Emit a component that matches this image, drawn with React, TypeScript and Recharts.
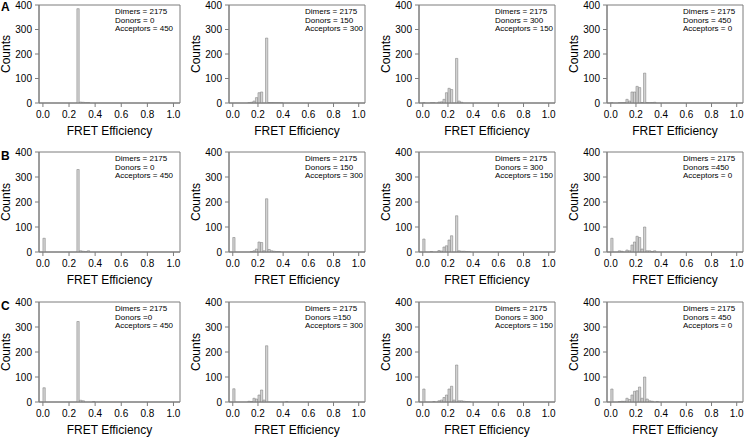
import { BarChart, Bar, XAxis, YAxis, ReferenceArea } from 'recharts'

// bin centres of the FRET histograms (0.02 wide), everything above 0.43 is empty
const BINS = [0.01, 0.03, 0.05, 0.07, 0.09, 0.11, 0.13, 0.15, 0.17, 0.19, 0.21, 0.23, 0.25, 0.27, 0.29, 0.31, 0.33, 0.35, 0.37, 0.39, 0.41, 0.43]

const A1 = [0, 0, 0, 0, 0, 0, 0, 0, 0, 0, 0, 0, 0, 385, 4, 3, 1, 2, 0, 0, 0, 0]
const A2 = [0, 0, 0, 0, 0, 0, 1, 3, 8, 22, 42, 45, 0, 265, 2, 2, 1, 1, 1, 1, 0, 0]
const A3 = [1, 0, 0, 1, 1, 0, 4, 5, 15, 42, 60, 55, 0, 182, 8, 3, 0, 0, 0, 0, 0, 0]
const A4 = [1, 0, 0, 1, 1, 2, 15, 8, 45, 45, 68, 63, 2, 122, 2, 1, 2, 3, 0, 0, 0, 0]
const B1 = [55, 0, 0, 0, 0, 0, 0, 0, 0, 0, 0, 0, 0, 330, 5, 3, 1, 5, 0, 0, 0, 0]
const B2 = [58, 0, 0, 0, 0, 0, 0, 2, 5, 12, 40, 38, 5, 213, 10, 5, 3, 2, 2, 0, 0, 0]
const B3 = [52, 0, 0, 2, 0, 0, 6, 4, 20, 25, 48, 65, 0, 145, 5, 3, 3, 2, 1, 0, 0, 0]
const B4 = [55, 0, 0, 5, 3, 0, 8, 5, 28, 40, 63, 58, 12, 100, 5, 5, 2, 5, 0, 0, 0, 0]
const C1 = [57, 0, 0, 0, 0, 0, 0, 0, 0, 0, 0, 0, 0, 322, 7, 5, 0, 0, 0, 2, 0, 0]
const C2 = [53, 0, 0, 0, 0, 0, 3, 2, 15, 12, 28, 48, 8, 225, 0, 0, 0, 0, 0, 0, 0, 2]
const C3 = [52, 0, 0, 0, 2, 0, 5, 8, 18, 28, 52, 63, 8, 148, 5, 5, 3, 2, 1, 0, 0, 0]
const C4 = [52, 0, 0, 2, 3, 3, 15, 10, 28, 43, 45, 60, 15, 100, 12, 5, 3, 0, 2, 0, 0, 0]

const ROWS = [[A1, A2, A3, A4], [B1, B2, B3, B4], [C1, C2, C3, C4]]
const ROW_LETTERS = ['A', 'B', 'C']

const DONOR_LABELS = [
  ['Donors = 0', 'Donors = 150', 'Donors = 300', 'Donors = 450'],
  ['Donors = 0', 'Donors = 150', 'Donors = 300', 'Donors =450'],
  ['Donors =0', 'Donors =150', 'Donors = 300', 'Donors = 450'],
]
const ACCEPTOR_LABELS = ['Acceptors = 450', 'Acceptors = 300', 'Acceptors = 150', 'Acceptors = 0']
const DIMER_LABEL = 'Dimers = 2175'

const X_TICKS = [0, 0.2, 0.4, 0.6, 0.8, 1.0]
const Y_TICKS = [0, 100, 200, 300, 400]
const X_DOMAIN: [number, number] = [-0.03, 1.05]

// plot-area placement in page pixels
const ROW_TOPS = [5, 152, 302]
const ROW_H = [98, 100, 100]
const COL_LEFTS = [39, 229, 419, 607]
const COL_W = [141, 136, 136, 136]

const AXIS = '#7d7d7d'
const YW = 40
const MT = 6
const MR = 6
const XH = 40

function Panel({ counts, left, top, w, h, lines }: { counts: number[]; left: number; top: number; w: number; h: number; lines: string[] }) {
  const data = BINS.map((x, i) => ({ x, count: counts[i] }))
  return (
    <div style={{ position: 'absolute', left: left - YW, top: top - MT }}>
      <BarChart width={YW + w + MR} height={MT + h + XH} data={data} margin={{ top: MT, right: MR, left: 0, bottom: 0 }} barSize={3}>
        <XAxis
          type="number"
          dataKey="x"
          domain={X_DOMAIN}
          ticks={X_TICKS}
          allowDataOverflow
          tickFormatter={(v: number) => v.toFixed(1)}
          height={XH}
          tickSize={4}
          tickMargin={4}
          stroke={AXIS}
          tick={{ fill: '#000', fontSize: 10 }}
          label={{ value: 'FRET Efficiency', position: 'insideBottom', offset: 8, fill: '#000', fontSize: 12 }}
        />
        <YAxis
          domain={[0, 400]}
          ticks={Y_TICKS}
          allowDataOverflow
          width={YW}
          tickSize={4}
          tickMargin={3}
          stroke={AXIS}
          tick={{ fill: '#000', fontSize: 10 }}
          label={{ value: 'Counts', angle: -90, position: 'insideLeft', offset: 7, fill: '#000', fontSize: 12, style: { textAnchor: 'middle' } }}
        />
        <ReferenceArea x1={X_DOMAIN[0]} x2={X_DOMAIN[1]} y1={0} y2={400} fill="none" stroke={AXIS} ifOverflow="extendDomain" />
        <Bar dataKey="count" fill="#d3d3d3" stroke="#777" strokeWidth={0.5} isAnimationActive={false} />
      </BarChart>
      <div style={{ position: 'absolute', left: YW + 76, top: MT + 3, fontSize: 8, lineHeight: '8.6px', color: '#000', whiteSpace: 'nowrap' }}>
        {lines.map((t) => (
          <div key={t}>{t}</div>
        ))}
      </div>
    </div>
  )
}

export default function App() {
  return (
    <div style={{ position: 'absolute', left: 0, top: 0, width: 750, height: 437, background: '#fff', fontFamily: '"Liberation Sans", Arial, sans-serif' }}>
      {ROWS.map((row, r) => (
        <div key={r}>
          <div style={{ position: 'absolute', left: 1, top: ROW_TOPS[r] - 5 + (r === 0 ? 0 : 2), fontSize: 12, fontWeight: 'bold' }}>{ROW_LETTERS[r]}</div>
          {row.map((counts, c) => (
            <Panel
              key={c}
              counts={counts}
              left={COL_LEFTS[c]}
              top={ROW_TOPS[r]}
              w={COL_W[c]}
              h={ROW_H[r]}
              lines={[DIMER_LABEL, DONOR_LABELS[r][c], ACCEPTOR_LABELS[c]]}
            />
          ))}
        </div>
      ))}
    </div>
  )
}
